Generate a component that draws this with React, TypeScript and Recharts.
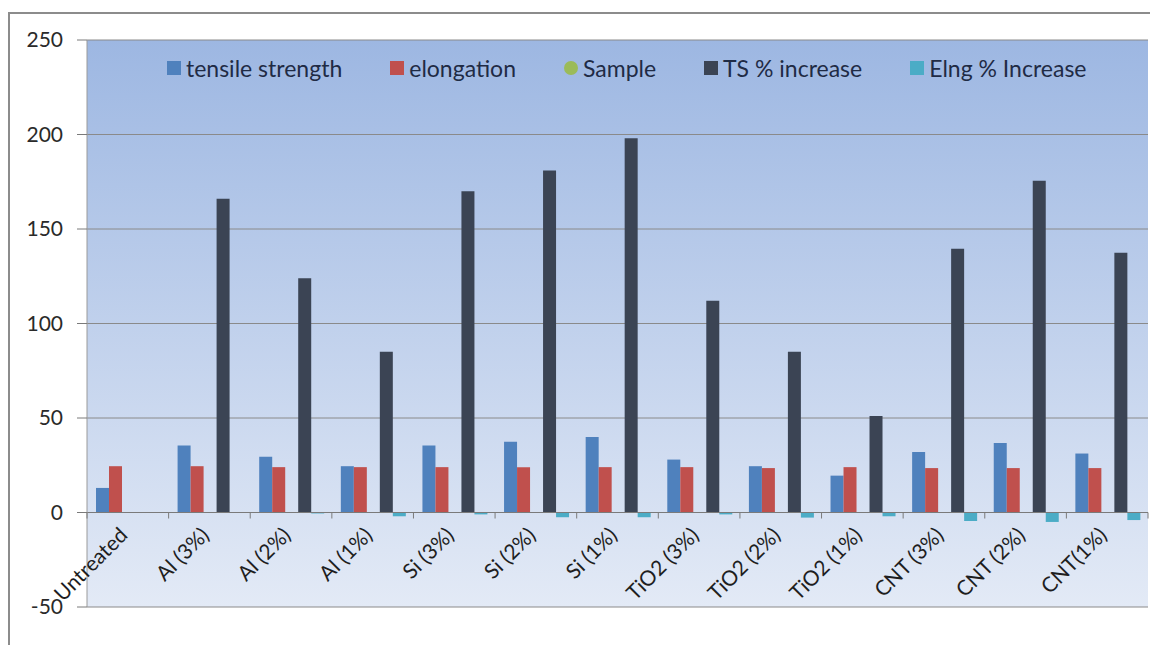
import React from "react";
import { BarChart, Bar, XAxis, YAxis, CartesianGrid, ReferenceLine } from "recharts";

// sample groups along the x axis
const samples = [
  "Untreated",
  "Al (3%)",
  "Al (2%)",
  "Al (1%)",
  "Si (3%)",
  "Si (2%)",
  "Si (1%)",
  "TiO2 (3%)",
  "TiO2 (2%)",
  "TiO2 (1%)",
  "CNT (3%)",
  "CNT (2%)",
  "CNT(1%)",
];

const tensileStrength = [13, 35.5, 29.5, 24.5, 35.5, 37.5, 40, 28, 24.5, 19.5, 32, 36.8, 31.2];
const elongation = [24.5, 24.5, 24, 24, 24, 24, 24, 24, 23.5, 24, 23.5, 23.5, 23.5];
const sampleCol: (number | null)[] = samples.map(() => null);
const tsIncrease = [0, 166, 124, 85, 170, 181, 198, 112, 85, 51, 139.5, 175.5, 137.5];
const elngIncrease = [0, 0, -0.5, -2, -1, -2.5, -2.5, -1, -2.7, -2, -4.5, -5, -4];

const yTicks = [-50, 0, 50, 100, 150, 200, 250];

const series = [
  { key: "ts", name: "tensile strength", color: "#4f81bd", shape: "square" },
  { key: "el", name: "elongation", color: "#c0504d", shape: "square" },
  { key: "sample", name: "Sample", color: "#9bbb59", shape: "circle" },
  { key: "tsInc", name: "TS % increase", color: "#3b4454", shape: "square" },
  { key: "elInc", name: "Elng % Increase", color: "#4bacc6", shape: "square" },
];

const data = samples.map((s, i) => ({
  name: s,
  ts: tensileStrength[i],
  el: elongation[i],
  sample: sampleCol[i],
  tsInc: tsIncrease[i],
  elInc: elngIncrease[i],
}));

const W = 1150;
const H = 637;
const M = { top: 32, right: 10, bottom: 8, left: 0 };
const Y_AXIS_W = 79;
const X_AXIS_H = 30;
const PLOT_W = W - M.left - M.right - Y_AXIS_W;
const PLOT_H = H - M.top - M.bottom - X_AXIS_H;
const Y_MIN = -50;
const Y_MAX = 250;
// pixel row of the zero line; category labels hang from it, Excel style
const ZERO_Y = M.top + (Y_MAX / (Y_MAX - Y_MIN)) * PLOT_H;
const BAND = PLOT_W / samples.length;

const FONT = "Lato, 'Liberation Sans', sans-serif";

const CategoryTick = (props: any) => {
  const { x, index, payload } = props;
  const left = x - BAND / 2;
  const ax = x + 1;
  const ay = ZERO_Y + 24;
  return (
    <g>
      <line x1={left} x2={left} y1={ZERO_Y} y2={ZERO_Y + 6} stroke="#7a7a7a" />
      {index === samples.length - 1 && (
        <line x1={left + BAND} x2={left + BAND} y1={ZERO_Y} y2={ZERO_Y + 6} stroke="#7a7a7a" />
      )}
      <text
        x={ax}
        y={ay}
        transform={`rotate(-45 ${ax} ${ay})`}
        textAnchor="end"
        fontSize={21}
        fontFamily={FONT}
        fill="#1e1e1e"
      >
        {payload.value}
      </text>
    </g>
  );
};

const LegendRow = () => (
  <div
    style={{
      position: "absolute",
      left: 159,
      top: 46,
      display: "flex",
      alignItems: "center",
      fontFamily: FONT,
      fontSize: 23,
      lineHeight: "28px",
      color: "#1f2b45",
      whiteSpace: "nowrap",
    }}
  >
    {series.map((s) => (
      <div key={s.key} style={{ display: "flex", alignItems: "center", marginRight: 48 }}>
        <span
          style={{
            display: "inline-block",
            width: 14,
            height: 14,
            background: s.color,
            borderRadius: s.shape === "circle" ? 7 : 0,
            marginRight: 5,
          }}
        />
        <span>{s.name}</span>
      </div>
    ))}
  </div>
);

export default function App() {
  return (
    <div style={{ position: "relative", width: W, height: H }}>
      <div
        style={{
          position: "absolute",
          left: 0,
          top: 4,
          width: W + 20,
          height: H - 4,
          borderTop: "2px solid #8c8c8c",
          borderLeft: "2px solid #8c8c8c",
          boxSizing: "border-box",
        }}
      />
      <BarChart
        width={W}
        height={H}
        data={data}
        margin={M}
        barCategoryGap="11%"
        barGap={0}
        style={{ position: "absolute", left: 0, top: 0 }}
      >
        <defs>
          <linearGradient id="plotBg" x1="0" y1="0" x2="0" y2="1">
            <stop offset="0%" stopColor="#9db7e2" />
            <stop offset="100%" stopColor="#e3eaf6" />
          </linearGradient>
        </defs>
        <CartesianGrid vertical={false} fill="url(#plotBg)" stroke="#8a8a8a" fillOpacity={1} />
        <XAxis
          dataKey="name"
          height={X_AXIS_H}
          axisLine={false}
          tickLine={false}
          interval={0}
          tick={<CategoryTick />}
        />
        <YAxis
          width={Y_AXIS_W}
          domain={[Y_MIN, Y_MAX]}
          ticks={yTicks}
          allowDataOverflow
          axisLine={{ stroke: "#9a9a9a" }}
          tickLine={{ stroke: "#7a7a7a" }}
          tickSize={10}
          tickMargin={14}
          tick={{ fontSize: 21, fontFamily: FONT, fill: "#2a2a2a" }}
        />
        <ReferenceLine y={0} stroke="#7a7a7a" />
        {series.map((s) => (
          <Bar key={s.key} dataKey={s.key} name={s.name} fill={s.color} isAnimationActive={false} />
        ))}
      </BarChart>
      <LegendRow />
    </div>
  );
}
